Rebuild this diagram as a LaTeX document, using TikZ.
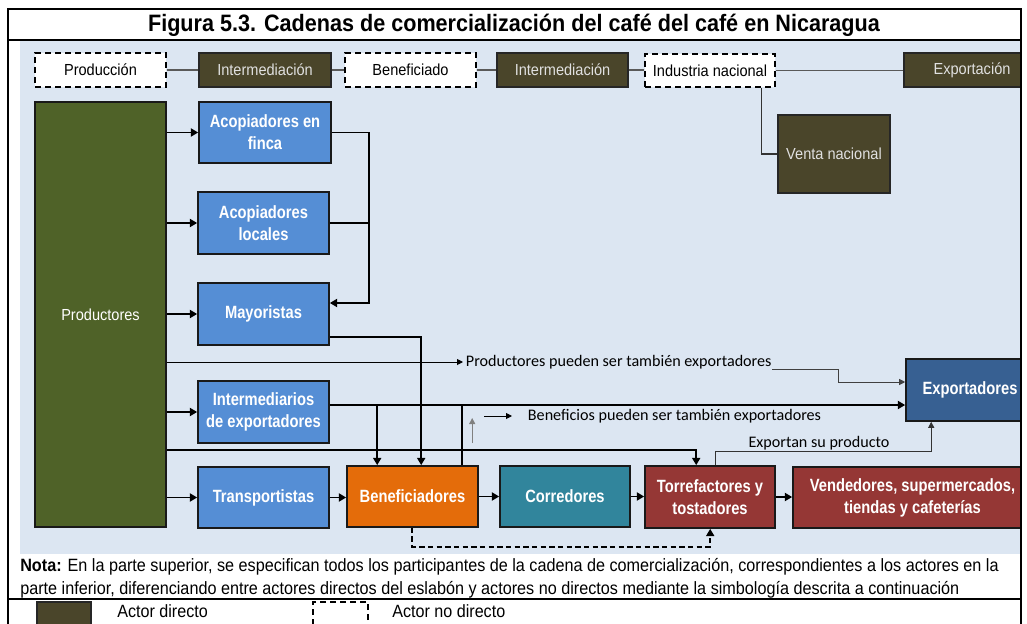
\documentclass[tikz,border=0pt]{standalone}
\usepackage{fontspec}
\setmainfont{Liberation Sans}
\newfontfamily\myrg[FakeStretch=0.91]{Liberation Sans}
\newfontfamily\mybd[FakeStretch=0.83]{Liberation Sans}
\newfontfamily\mycal{Carlito}
\usetikzlibrary{arrows.meta,calc}
\definecolor{bgblue}{HTML}{DCE6F2}
\definecolor{olive}{HTML}{4A452A}
\definecolor{prodgreen}{HTML}{4F6228}
\definecolor{boxblue}{HTML}{558ED5}
\definecolor{expblue}{HTML}{376092}
\definecolor{orng}{HTML}{E46C0A}
\definecolor{teal2}{HTML}{31859C}
\definecolor{darkred}{HTML}{953735}
\definecolor{lgray}{HTML}{595959}
\newcommand\fTitle{\myrg\bfseries\fontsize{17.8}{20}\selectfont}
\newcommand\fTop{\myrg\fontsize{12}{14}\selectfont}
\newcommand\fLab{\mybd\bfseries\fontsize{13.3}{16.5}\selectfont}
\newcommand\fCal{\mycal\fontsize{12.1}{14}\selectfont}
\newcommand\fNote{\myrg\fontsize{13.35}{15}\selectfont}
\newcommand\fLeg{\myrg\fontsize{13.3}{15}\selectfont}
\newcommand\bx[7]{\node[#6, minimum width={(#4-#2)*0.75pt}, minimum height={(#5-#3)*0.75pt}] (#1) at ({(#2+#4)/2},{(#3+#5)/2}) {#7};}
\tikzset{
  directo/.style={fill=olive, draw=black!85, line width=1.2pt, text=white!88!black, font=\fTop, inner sep=0pt},
  nodirecto/.style={fill=white, draw=black, line width=1.2pt, dash pattern=on 4.5pt off 3pt, font=\fTop, inner sep=0pt},
  actor/.style={draw=black!90, line width=1.2pt, text=white, font=\fLab, align=center, inner sep=0pt},
  thickarrow/.style={line width=1.4pt, -{Triangle[length=5.5pt,width=6pt]}},
  thickline/.style={line width=1.4pt},
  thinarrow/.style={line width=0.7pt, -{Triangle[length=4.5pt,width=4.5pt]}},
  topline/.style={line width=1.1pt, draw=lgray},
  caltext/.style={font=\fCal, inner sep=2pt},
}
\begin{document}
\begin{tikzpicture}[x=0.75pt, y=-0.75pt]
\useasboundingbox (0,0) rectangle (1027,624);
\clip (0,0) rectangle (1027,624);
\fill[white] (0,0) rectangle (1027,624);
% background
\fill[bgblue] (20,41) rectangle (1021,554);
% title
\node[font=\fTitle, anchor=center] (title) at (514,25) {Figura 5.3. Cadenas de comercialización del café del café en Nicaragua};
\begin{scope}
\clip (0,0) rectangle (1021,624);
% top row
\bx{prod0}{35}{53}{166}{87}{nodirecto}{Producción}
\bx{int1}{199}{53}{331}{87}{directo}{Intermediación}
\bx{ben0}{345}{53}{476}{87}{nodirecto}{Beneficiado}
\bx{int2}{497}{53}{628}{87}{directo}{Intermediación}
\bx{ind}{645}{54}{775}{87}{nodirecto}{Industria nacional}
\bx{expo0}{904}{53}{1040}{87}{directo}{Exportación}
\bx{venta}{778}{115}{890}{193}{directo}{Venta nacional}
% left column
\bx{prodr}{35}{102}{166}{527}{fill=prodgreen, draw=black!90, line width=1.2pt, text=white, font=\fTop, inner sep=0pt}{Productores}
\bx{finca}{199}{102}{331}{163}{actor, fill=boxblue}{Acopiadores en\\finca}
\bx{locales}{198}{192}{329}{254}{actor, fill=boxblue}{Acopiadores\\locales}
\bx{mayor}{198}{283}{329}{345}{actor, fill=boxblue}{Mayoristas}
\bx{interm}{198}{381}{329}{443}{actor, fill=boxblue}{Intermediarios\\de exportadores}
\bx{transp}{198}{467}{329}{528}{actor, fill=boxblue}{Transportistas}
\bx{benef}{347}{466}{478}{527}{actor, fill=orng}{Beneficiadores}
\bx{corr}{500}{466}{630}{527}{actor, fill=teal2}{Corredores}
\bx{torr}{645}{466}{775}{528}{actor, fill=darkred}{Torrefactores y\\tostadores}
\bx{vend}{793}{467}{1032}{528}{actor, fill=darkred}{Vendedores, supermercados,\\tiendas y cafeterías}
\bx{exporta}{906}{359}{1034}{421}{actor, fill=expblue}{Exportadores}
\end{scope}
% top row connectors
\draw[topline] (prod0.east) -- (prod0.east -| int1.west);
\draw[topline] (int1.east) -- (int1.east -| ben0.west);
\draw[topline] (ben0.east) -- (ben0.east -| int2.west);
\draw[topline] (int2.east) -- (int2.east -| ind.west);
\draw[topline] (ind.east) -- (ind.east -| expo0.west);
\draw[line width=0.8pt, draw=black!80] ($(ind.south west)+(117,0)$) |- (venta.west);
% productores to actors
\foreach \n in {finca,locales,mayor,interm,transp}
  \draw[thickarrow] (prodr.east |- \n.west) -- (\n.west);
% bracket to mayoristas
\draw[thickarrow] (finca.east) -- ++(37,0) coordinate (br) |- ($(mayor.east)+(0,-11)$);
\draw[thickline] (locales.east) -- (locales.east -| br);
% mayoristas to beneficiadores
\coordinate (b3) at ($(benef.north west)+(75,0)$);
\draw[thickarrow] ($(mayor.east)+(0,23)$) -| (b3);
% productores as exporters
\node[caltext, anchor=west] (ptxt) at (463,362) {Productores pueden ser también exportadores};
\draw[thinarrow] (prodr.east |- ptxt.west) -- (ptxt.west);
\draw[thinarrow, draw=black!75] ($(ptxt.base east)+(-2,3)$) -- ++(66,0) |- ($(exporta.west)+(0,-8)$);
% intermediarios to exportadores
\coordinate (ie) at ($(interm.east)+(0,-7)$);
\draw[thickarrow] (ie) -- (ie -| exporta.west);
\coordinate (b1) at ($(benef.north west)+(31,0)$);
\draw[thickarrow] (b1 |- ie) -- (b1);
\coordinate (b2) at ($(benef.north west)+(116,0)$);
\draw[thickline] (b2) -- (b2 |- ie);
% beneficios text
\coordinate (ga) at ($(b2 |- ie)+(10,38)$);
\draw[thinarrow, draw=gray] (ga) -- ++(0,-25);
\node[caltext, anchor=west] (btxt) at (525,416) {Beneficios pueden ser también exportadores};
\coordinate (ba) at ($(btxt.west)+(-41,0)$);
\draw[thinarrow] (ba) -- ++(28,0);
% productores to torrefactores
\draw[thickarrow] ($(prodr.south east)+(0,-78)$) -| ($(torr.north west)+(52,0)$);
% torrefactores to exportadores
\draw[thinarrow, draw=black!80] ($(torr.north west)+(71,0)$) -- ++(0,-14) -| ($(exporta.south west)+(26,0)$);
\node[font=\fCal, anchor=base, inner sep=1pt] (etxt) at (819,447) {Exportan su producto};
% bottom row
\draw[thickarrow] (transp.east) -- (transp.east -| benef.west);
\draw[thickarrow] (benef.east) -- (benef.east -| corr.west);
\draw[thickarrow] (corr.east) -- (corr.east -| torr.west);
\draw[thickarrow] (torr.east) -- (torr.east -| vend.west);
\draw[thickarrow, dash pattern=on 4pt off 2.5pt] ($(benef.south west)+(66,0)$) -- ++(0,19) -| ($(torr.south west)+(66,0)$);
% frame
\draw[line width=1.5pt] (8,624) -- (8,9) -- (1021,9) -- (1021,624);
\draw[line width=1.5pt] (8,40) -- (1021,40);
\draw[line width=1.5pt] (8,599) -- (1021,599);
% note
\node[font=\fNote, anchor=base west, inner sep=0pt] (n1) at (20,571) {\textbf{Nota:} En la parte superior, se especifican todos los participantes de la cadena de comercialización, correspondientes a los actores en la};
\node[font=\fNote, anchor=base west, inner sep=0pt] (n2) at (20,594) {parte inferior, diferenciando entre actores directos del eslabón y actores no directos mediante la simbología descrita a continuación};
% legend
\bx{leg1}{37}{602}{91}{645}{directo}{}
\node[font=\fLeg, anchor=west, inner sep=0pt] (leg1t) at (117,611) {Actor directo};
\bx{leg2}{313}{602}{368}{645}{nodirecto}{}
\node[font=\fLeg, anchor=west, inner sep=0pt] (leg2t) at (392,611) {Actor no directo};
\end{tikzpicture}
\end{document}
